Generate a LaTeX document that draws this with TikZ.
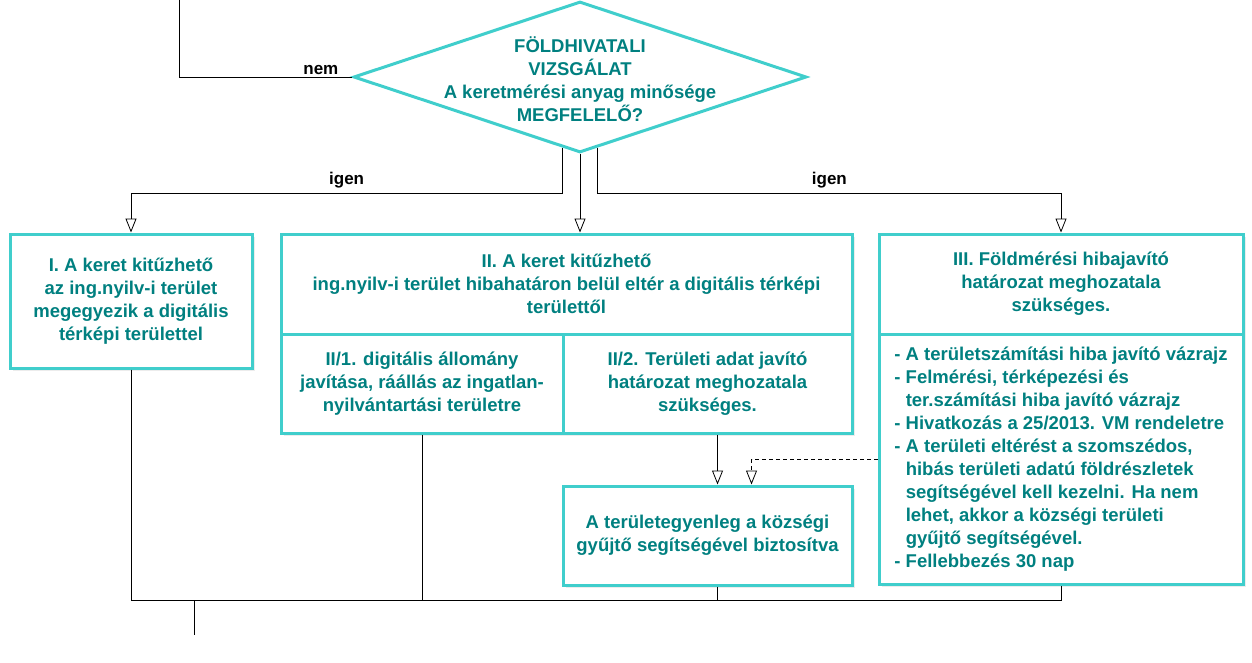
\documentclass[tikz,border=0pt]{standalone}
\usepackage{fontspec}
\setmainfont{Liberation Sans}
\usetikzlibrary{shapes.geometric,arrows.meta,shadows,calc}
\definecolor{boxline}{RGB}{64,206,204}
\definecolor{boxtext}{RGB}{0,128,128}
\tikzset{
  stage/.style={draw=boxline,line width=3pt,fill=white,text=boxtext,
    font=\bfseries\fontsize{18.5}{23}\selectfont,align=center,inner sep=0pt,
    drop shadow={shadow xshift=3pt,shadow yshift=-3pt,fill=black!15}},
  decision/.style={diamond,draw=boxline,line width=3pt,fill=white,inner sep=0pt},
  flow/.style={-{Triangle[open,width=11pt,length=14pt]},line width=0.8pt},
  link/.style={line width=0.8pt},
  lbl/.style={font=\bfseries\fontsize{17}{18}\selectfont,text=black,inner sep=2pt}
}
\begin{document}
\begin{tikzpicture}[x=1pt,y=-1pt]
  \useasboundingbox (0,0) rectangle (1252,663);
  \coordinate (intop) at (580,-30);
  \coordinate (nemend) at (179,-30);
  \coordinate (igenrow) at (0,193);
  \coordinate (joinrow) at (0,600);
  \coordinate (out) at (194,635);
  % decision
  \node[decision,minimum width=453pt,minimum height=151pt,
    label={[text=boxtext,font=\bfseries\fontsize{18.5}{23}\selectfont,align=center,yshift=-2pt]center:{FÖLDHIVATALI\\VIZSGÁLAT\\A keretmérési anyag minősége\\MEGFELELŐ?}}]
    (dec) at (580,77) {};
  % cases
  \node[stage,minimum width=242pt,minimum height=134pt] (kI) at (131,301)
    {I. A keret kitűzhető\\az ing.nyilv-i terület\\megegyezik a digitális\\térképi területtel};
  \node[stage,minimum width=571pt,minimum height=100pt] (kII) at (566.5,284)
    {II. A keret kitűzhető\\ing.nyilv-i terület hibahatáron belül eltér a digitális térképi\\területtől};
  \node[stage,minimum width=282pt,minimum height=99pt] (kIIa) at (422,383.5)
    {II/1. digitális állomány\\javítása, ráállás az ingatlan-\\nyilvántartási területre};
  \node[stage,minimum width=289pt,minimum height=99pt] (kIIb) at (707.5,383.5)
    {II/2. Területi adat javító\\határozat meghozatala\\szükséges.};
  \node[stage,minimum width=289pt,minimum height=99pt] (gyujto) at (707.5,535.5)
    {A területegyenleg a községi\\gyűjtő segítségével biztosítva};
  \node[stage,minimum width=364pt,minimum height=100pt] (kIII) at (1061,284)
    {III. Földmérési hibajavító\\határozat meghozatala\\szükséges.};
  \node[stage,minimum width=364pt,minimum height=250pt,align=left] (kIIIb) at (1061,459)
    {- A területszámítási hiba javító vázrajz\\
     - Felmérési, térképezési és\\
     \hphantom{- }ter.számítási hiba javító vázrajz\\
     - Hivatkozás a 25/2013. VM rendeletre\\
     - A területi eltérést a szomszédos,\\
     \hphantom{- }hibás területi adatú földrészletek\\
     \hphantom{- }segítségével kell kezelni. Ha nem\\
     \hphantom{- }lehet, akkor a községi területi\\
     \hphantom{- }gyűjtő segítségével.\\
     - Fellebbezés 30 nap};
  % connectors
  \draw[flow] (intop) -- (dec.north);
  \draw[link] (dec.west) -| node[lbl,above,pos=0.09]{nem} (nemend);
  \draw[flow] (dec.256) -- (dec.256 |- igenrow) -| node[lbl,above=2pt,pos=0.25]{igen} (kI.north);
  \draw[flow] (dec.south) -- (dec.south |- kII.north);
  \draw[flow] (dec.284) -- (dec.284 |- igenrow) -| node[lbl,above=2pt,pos=0.25]{igen} (kIII.north);
  \draw[flow] ([xshift=10pt]kIIb.south) -- ([xshift=10pt]gyujto.north);
  \draw[flow,dash pattern=on 4pt off 3pt] (kIIIb.west) -| ([xshift=44pt]gyujto.north);
  % join
  \draw[link] (kI.south) |- (joinrow -| kIIIb.south) -- (kIIIb.south);
  \draw[link] (kIIa.south) -- (kIIa.south |- joinrow);
  \draw[link] ([xshift=10pt]gyujto.south) -- ([xshift=10pt]gyujto.south |- joinrow);
  \draw[link] (out |- joinrow) -- (out);
\end{tikzpicture}
\end{document}
